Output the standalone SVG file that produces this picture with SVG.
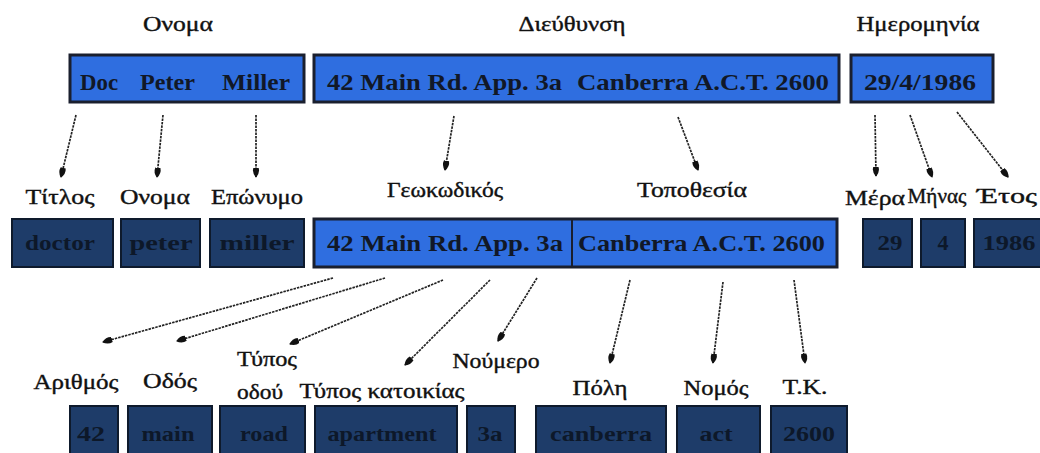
<svg xmlns="http://www.w3.org/2000/svg" width="1040" height="453" viewBox="0 0 1040 453" font-family="'Liberation Serif', 'Times New Roman', Times, serif">
<style>
.bg{fill:#ffffff}
.blue{fill:#2f6ee0;stroke:#1a1f2e;stroke-width:3}
.dark{fill:#1e3c69;stroke:#0e1a2c;stroke-width:2}
.bt{font-family:'Liberation Serif','Times New Roman',Times,serif;font-weight:bold;font-size:24px;fill:#111827}
.dt{font-family:'Liberation Serif','Times New Roman',Times,serif;font-weight:bold;font-size:22px;fill:#0d1829;text-anchor:middle}
.lb{font-family:'Liberation Serif','Times New Roman',Times,serif;font-size:22px;fill:#111;stroke:#111;stroke-width:0.4;text-anchor:middle}
.cn line{stroke:#222;stroke-width:1.7;stroke-dasharray:2.5 1;fill:none;marker-end:url(#ah)}
</style>
<defs>
<marker id="ah" viewBox="0 0 12 10" refX="11" refY="5" markerWidth="6" markerHeight="5" orient="auto" markerUnits="strokeWidth">
<path d="M0,2 Q6,0 12,5 Q6,10 0,8 Z" fill="#111"/>
</marker>
</defs>
<rect class="bg" x="0" y="0" width="1040" height="453"/>

<g id="lbl-top">
<text class="lb" x="178" y="31" textLength="70" lengthAdjust="spacingAndGlyphs">Ονομα</text>
<text class="lb" x="572" y="31" textLength="107" lengthAdjust="spacingAndGlyphs">Διεύθυνση</text>
<text class="lb" x="918" y="31" textLength="123" lengthAdjust="spacingAndGlyphs">Ημερομηνία</text>
</g>

<g id="node-name">
<rect class="blue" x="70" y="55" width="234" height="47"/>
<text class="bt" x="80" y="90" textLength="38" lengthAdjust="spacingAndGlyphs">Doc</text>
<text class="bt" x="140" y="90" textLength="55" lengthAdjust="spacingAndGlyphs">Peter</text>
<text class="bt" x="222" y="90" textLength="68" lengthAdjust="spacingAndGlyphs">Miller</text>
</g>
<g id="node-address">
<rect class="blue" x="314" y="55" width="525" height="47"/>
<text class="bt" x="327" y="90" textLength="235" lengthAdjust="spacingAndGlyphs">42 Main Rd. App. 3a</text>
<text class="bt" x="577" y="90" textLength="252" lengthAdjust="spacingAndGlyphs">Canberra A.C.T. 2600</text>
</g>
<g id="node-date">
<rect class="blue" x="851" y="55" width="142" height="47"/>
<text class="bt" x="864" y="90" textLength="112" lengthAdjust="spacingAndGlyphs">29/4/1986</text>
</g>

<g id="lbl-mid">
<text class="lb" x="60" y="204" textLength="69" lengthAdjust="spacingAndGlyphs">Τίτλος</text>
<text class="lb" x="155" y="204" textLength="70" lengthAdjust="spacingAndGlyphs">Ονομα</text>
<text class="lb" x="257" y="204" textLength="92" lengthAdjust="spacingAndGlyphs">Επώνυμο</text>
<text class="lb" x="445" y="197" textLength="116" lengthAdjust="spacingAndGlyphs">Γεωκωδικός</text>
<text class="lb" x="692" y="197" textLength="110" lengthAdjust="spacingAndGlyphs">Τοποθεσία</text>
<text class="lb" x="875" y="205" textLength="60" lengthAdjust="spacingAndGlyphs">Μέρα</text>
<text class="lb" x="937" y="203" textLength="59" lengthAdjust="spacingAndGlyphs">Μήνας</text>
<text class="lb" x="1007" y="203" textLength="60" lengthAdjust="spacingAndGlyphs">Έτος</text>
</g>

<g id="node-doctor"><rect class="dark" x="12" y="219" width="101" height="48"/><text class="dt" x="60" y="250" textLength="70" lengthAdjust="spacingAndGlyphs">doctor</text></g>
<g id="node-peter"><rect class="dark" x="121" y="219" width="79" height="48"/><text class="dt" x="161" y="250" textLength="63" lengthAdjust="spacingAndGlyphs">peter</text></g>
<g id="node-miller"><rect class="dark" x="210" y="219" width="94" height="48"/><text class="dt" x="257" y="250" textLength="75" lengthAdjust="spacingAndGlyphs">miller</text></g>
<g id="node-geo">
<rect class="blue" x="314" y="219" width="523" height="48"/>
<line x1="572" y1="219" x2="572" y2="267" stroke="#1a1f2e" stroke-width="2"/>
<text class="bt" x="327" y="251" textLength="236" lengthAdjust="spacingAndGlyphs">42 Main Rd. App. 3a</text>
<text class="bt" x="578" y="251" textLength="247" lengthAdjust="spacingAndGlyphs">Canberra A.C.T. 2600</text>
</g>
<g id="node-29"><rect class="dark" x="863" y="219" width="49" height="48"/><text class="dt" x="890" y="250" textLength="25" lengthAdjust="spacingAndGlyphs">29</text></g>
<g id="node-4"><rect class="dark" x="921" y="219" width="44" height="48"/><text class="dt" x="943" y="250">4</text></g>
<g id="node-1986"><rect class="dark" x="974" y="219" width="70" height="48"/><text class="dt" x="1009" y="250" textLength="53" lengthAdjust="spacingAndGlyphs">1986</text></g>

<g id="lbl-bottom">
<text class="lb" x="76" y="389" textLength="85" lengthAdjust="spacingAndGlyphs">Αριθμός</text>
<text class="lb" x="170" y="388" textLength="54" lengthAdjust="spacingAndGlyphs">Οδός</text>
<text class="lb" x="267" y="366" textLength="60" lengthAdjust="spacingAndGlyphs">Τύπος</text>
<text class="lb" x="260" y="399" textLength="46" lengthAdjust="spacingAndGlyphs">οδού</text>
<text class="lb" x="382" y="398" textLength="165" lengthAdjust="spacingAndGlyphs">Τύπος κατοικίας</text>
<text class="lb" x="496" y="368" textLength="87" lengthAdjust="spacingAndGlyphs">Νούμερο</text>
<text class="lb" x="600" y="395" textLength="55" lengthAdjust="spacingAndGlyphs">Πόλη</text>
<text class="lb" x="716" y="395" textLength="65" lengthAdjust="spacingAndGlyphs">Νομός</text>
<text class="lb" x="805" y="394" textLength="45" lengthAdjust="spacingAndGlyphs">Τ.Κ.</text>
</g>

<g id="node-42"><rect class="dark" x="70" y="406" width="48" height="50"/><text class="dt" x="91" y="441" textLength="28" lengthAdjust="spacingAndGlyphs">42</text></g>
<g id="node-main"><rect class="dark" x="128" y="406" width="84" height="50"/><text class="dt" x="168" y="441" textLength="53" lengthAdjust="spacingAndGlyphs">main</text></g>
<g id="node-road"><rect class="dark" x="220" y="406" width="85" height="50"/><text class="dt" x="264" y="441" textLength="48" lengthAdjust="spacingAndGlyphs">road</text></g>
<g id="node-apartment"><rect class="dark" x="315" y="406" width="142" height="50"/><text class="dt" x="382" y="441" textLength="109" lengthAdjust="spacingAndGlyphs">apartment</text></g>
<g id="node-3a"><rect class="dark" x="467" y="406" width="48" height="50"/><text class="dt" x="490" y="441" textLength="25" lengthAdjust="spacingAndGlyphs">3a</text></g>
<g id="node-canberra"><rect class="dark" x="536" y="406" width="130" height="50"/><text class="dt" x="601" y="441" textLength="102" lengthAdjust="spacingAndGlyphs">canberra</text></g>
<g id="node-act"><rect class="dark" x="677" y="406" width="83" height="50"/><text class="dt" x="716" y="441" textLength="33" lengthAdjust="spacingAndGlyphs">act</text></g>
<g id="node-2600"><rect class="dark" x="771" y="406" width="76" height="50"/><text class="dt" x="809" y="441" textLength="52" lengthAdjust="spacingAndGlyphs">2600</text></g>

<g id="connectors" class="cn">
<line x1="76" y1="115" x2="61" y2="177"/>
<line x1="163" y1="115" x2="157" y2="177"/>
<line x1="256" y1="115" x2="256" y2="177"/>
<line x1="454" y1="116" x2="445" y2="170"/>
<line x1="678" y1="117" x2="698" y2="170"/>
<line x1="875" y1="115" x2="876" y2="176"/>
<line x1="910" y1="115" x2="932" y2="177"/>
<line x1="957" y1="112" x2="1008" y2="177"/>
<line x1="333" y1="278" x2="103" y2="342"/>
<line x1="385" y1="278" x2="177" y2="341"/>
<line x1="443" y1="280" x2="290" y2="344"/>
<line x1="490" y1="280" x2="405" y2="365"/>
<line x1="537" y1="278" x2="498" y2="341"/>
<line x1="630" y1="280" x2="610" y2="363"/>
<line x1="723" y1="282" x2="713" y2="363"/>
<line x1="794" y1="280" x2="805" y2="363"/>
</g>
</svg>
